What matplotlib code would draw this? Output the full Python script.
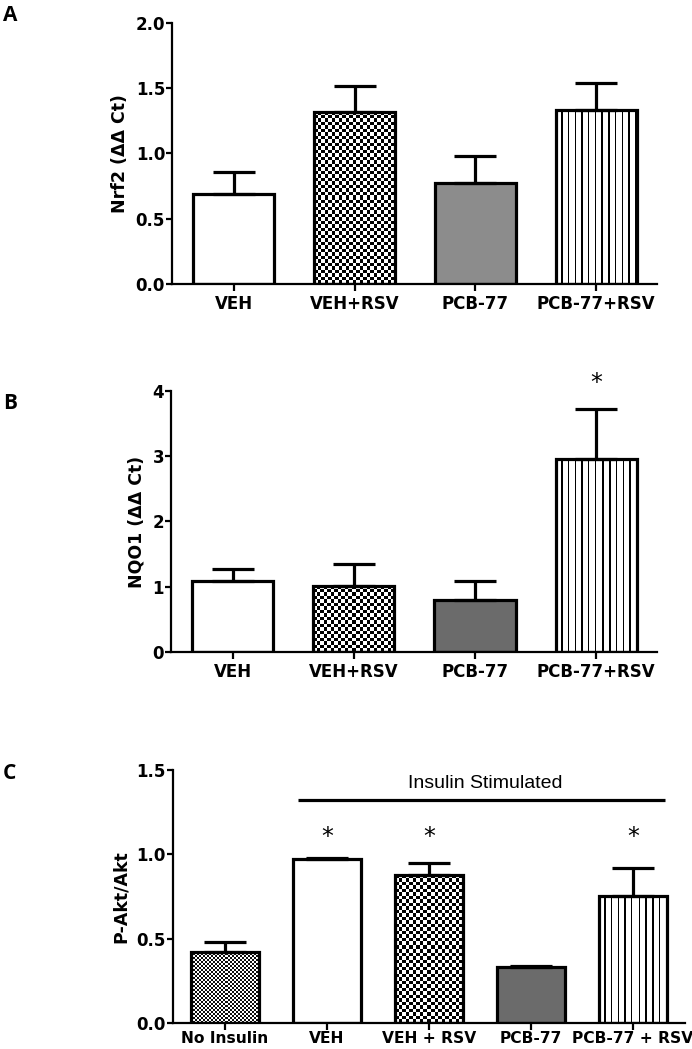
import numpy as np
import matplotlib
matplotlib.use("Agg")
import matplotlib.pyplot as plt

plt.rcParams['font.family'] = ['DejaVu Sans']

# panel A - Nrf2
groups_a = ["VEH", "VEH+RSV", "PCB-77", "PCB-77+RSV"]
nrf2_mean = [0.69, 1.32, 0.77, 1.33]
nrf2_sem = [0.17, 0.20, 0.21, 0.21]
nrf2_star = [False, False, False, False]

# panel B - NQO1
groups_b = ["VEH", "VEH+RSV", "PCB-77", "PCB-77+RSV"]
nqo1_mean = [1.09, 1.01, 0.80, 2.96]
nqo1_sem = [0.18, 0.34, 0.29, 0.76]
nqo1_star = [False, False, False, True]

# panel C - P-Akt/Akt
groups_c = ["No Insulin", "VEH", "VEH + RSV", "PCB-77", "PCB-77 + RSV"]
akt_mean = [0.42, 0.97, 0.88, 0.33, 0.75]
akt_sem = [0.06, 0.01, 0.07, 0.01, 0.17]
akt_star = [False, True, True, False, True]
insulin_label = "Insulin Stimulated"


def pattern_array(kind, w, h):
    """ Pixel pattern (1 = white, 0 = black) for a bar of w x h pixels. """
    ix, iy = np.meshgrid(np.arange(w), np.arange(h))
    if kind == "checker":
        s = 3.5
        return 1.0 - ((ix // s + iy // s) % 2)
    if kind == "fine":
        s = 2
        return 1.0 - ((ix // s + iy // s) % 2) * 0.95
    if kind == "stripes":
        return np.where(((ix + 2) % 6.7) < 1.4, 0.0, 1.0)
    return np.ones((h, w))


def draw_panel(ax, labels, means, sems, stars, styles, gray, ylim, yticks,
               yfmt, ylabel, xlim, star_y, xfont=12, xpad=3):
    x = np.arange(len(labels))
    width = 0.67
    ax.set_xlim(*xlim)
    ax.set_ylim(*ylim)
    ax.set_autoscale_on(False)

    for i, style in enumerate(styles):
        face = gray if style == "gray" else "white"
        ax.bar(x[i], means[i], width, color=face, edgecolor="none", zorder=1)
        if style in ("checker", "fine", "stripes"):
            x0 = x[i] - width / 2
            x1 = x[i] + width / 2
            p0 = ax.transData.transform((x0, 0))
            p1 = ax.transData.transform((x1, means[i]))
            w = max(int(round(p1[0] - p0[0])), 1)
            h = max(int(round(p1[1] - p0[1])), 1)
            img = pattern_array(style, w, h)
            ax.imshow(img, extent=[x0, x1, 0, means[i]], origin="lower",
                      cmap="gray", vmin=0, vmax=1, interpolation="nearest",
                      aspect="auto", zorder=2)

    ax.errorbar(x, means, yerr=[np.zeros(len(x)), sems], fmt="none",
                ecolor="black", elinewidth=2.3, capsize=15, capthick=2.3,
                zorder=2.5)
    ax.bar(x, means, width, facecolor="none", edgecolor="black",
           linewidth=2.3, zorder=3)

    for i, s in enumerate(stars):
        if s:
            ax.text(x[i], star_y, "*", ha="center", va="center",
                    fontsize=17, clip_on=False)

    ax.set_xlim(*xlim)
    ax.set_ylim(*ylim)
    ax.set_yticks(yticks)
    ax.set_yticklabels([yfmt.format(v) for v in yticks], fontweight="bold",
                       fontsize=12)
    ax.set_xticks(x)
    ax.set_xticklabels(labels, fontweight="bold", fontsize=xfont)
    ax.set_ylabel(ylabel, fontweight="bold", fontsize=12.5, labelpad=5)
    for side in ("top", "right"):
        ax.spines[side].set_visible(False)
    for side in ("left", "bottom"):
        ax.spines[side].set_linewidth(1.6)
    ax.tick_params(axis="y", length=4, width=1.6, pad=1)
    ax.tick_params(axis="x", length=5, width=1.6, pad=xpad)
    return x


fig = plt.figure(figsize=(6.92, 10.49), dpi=100)

ax_a = fig.add_axes([0.2486, 0.7293, 0.7004, 0.2488])
draw_panel(ax_a, groups_a, nrf2_mean, nrf2_sem, nrf2_star,
           ["white", "checker", "gray", "stripes"], "#8c8c8c",
           (0, 2.0), [0.0, 0.5, 1.0, 1.5, 2.0], "{:.1f}",
           "Nrf2 (ΔΔ Ct)", (-0.51, 3.5), 2.1)

ax_b = fig.add_axes([0.2471, 0.3785, 0.7019, 0.2488])
draw_panel(ax_b, groups_b, nqo1_mean, nqo1_sem, nqo1_star,
           ["white", "checker", "gray", "stripes"], "#6b6b6b",
           (0, 4), [0, 1, 2, 3, 4], "{:d}",
           "NQO1 (ΔΔ Ct)", (-0.51, 3.5), 4.12)

ax_c = fig.add_axes([0.2500, 0.0248, 0.7400, 0.2412])
xc = draw_panel(ax_c, groups_c, akt_mean, akt_sem, akt_star,
                ["fine", "white", "checker", "gray", "stripes"], "#6b6b6b",
                (0, 1.5), [0.0, 0.5, 1.0, 1.5], "{:.1f}",
                "P-Akt/Akt", (-0.51, 4.51), 1.10, xfont=11.2, xpad=1)

# insulin stimulated bracket over VEH .. PCB-77 + RSV
ax_c.plot([xc[1] - 0.28, xc[4] + 0.31], [1.32, 1.32], color="black",
          linewidth=2.3, clip_on=False, solid_capstyle="butt")
ax_c.text((xc[1] + xc[4]) / 2 + 0.05, 1.42, insulin_label, ha="center",
          va="center", fontsize=14, family="Liberation Sans")

for label, ytop in (("A", 0.995), ("B", 0.6254), ("C", 0.2726)):
    fig.text(0.004, ytop, label, ha="left", va="top", fontsize=15,
             fontweight="bold", family="Open Sans")

fig.savefig("out.png", dpi=100)
